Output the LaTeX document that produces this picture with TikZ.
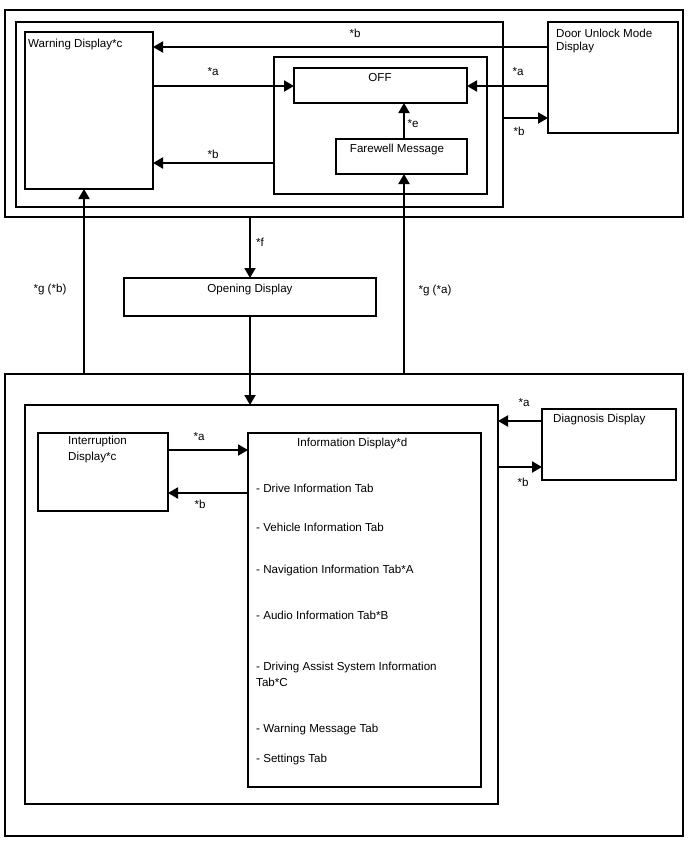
\documentclass[tikz,border=0pt]{standalone}
\usepackage{fontspec}
\setmainfont{Liberation Sans}
\usetikzlibrary{arrows.meta,calc}
\begin{document}
\begin{tikzpicture}[x=1pt,y=-1pt,
  box/.style={draw, line width=1.4pt, anchor=north west, inner sep=0pt, outer sep=0pt},
  arr/.style={line width=2pt, -{Triangle[length=10pt,width=11pt]}},
  lbl/.style={font=\fontsize{11.6}{13.5}\selectfont, inner sep=0pt}]
\useasboundingbox (0,0) rectangle (688,852);
\fill[white] (0,0) rectangle (688,852);
% boxes
\node[box, minimum width=678pt, minimum height=207pt] (outerT) at (5,10) {};
\node[box, minimum width=487pt, minimum height=185pt] (innerT) at (16,22) {};
\node[box, minimum width=128pt, minimum height=157pt] (warn) at (25,32) {};
\node[box, minimum width=213pt, minimum height=137pt] (offgrp) at (274,57) {};
\node[box, minimum width=173pt, minimum height=35pt] (off) at (294,68) {};
\node[box, minimum width=131pt, minimum height=35pt] (fare) at (336,139) {};
\node[box, minimum width=130pt, minimum height=111pt] (door) at (548,22) {};
\node[box, minimum width=252pt, minimum height=38pt] (open) at (124,278) {};
\node[box, minimum width=678pt, minimum height=462pt] (outerB) at (5,374) {};
\node[box, minimum width=473pt, minimum height=399pt] (innerB) at (25,405) {};
\node[box, minimum width=130pt, minimum height=78pt] (intr) at (38,433) {};
\node[box, minimum width=233pt, minimum height=354pt] (info) at (248,433) {};
\node[box, minimum width=134pt, minimum height=71pt] (diag) at (542,409) {};
% texts
\node[lbl, anchor=west] (twarn) at (28,44) {Warning Display*c};
\node[lbl] (toff) at (380,78) {OFF};
\node[lbl] (tfare) at (397,149) {Farewell Message};
\node[lbl, anchor=west] (tdoor1) at (556,33) {Door Unlock Mode};
\node[lbl, anchor=west] (tdoor2) at (556,47) {Display};
\node[lbl] (topen) at (250,289) {Opening Display};
\node[lbl, anchor=west] (tdiag) at (553,419) {Diagnosis Display};
\node[lbl, anchor=west] (tintr1) at (68,441) {Interruption};
\node[lbl, anchor=west] (tintr2) at (68,457) {Display*c};
\node[lbl, anchor=west] (tinfo) at (297,443) {Information Display*d};
\node[lbl, anchor=west] (i1) at (256,488) {- Drive Information Tab};
\node[lbl, anchor=west] (i2) at (256,527) {- Vehicle Information Tab};
\node[lbl, anchor=west] (i3) at (256,570) {- Navigation Information Tab*A};
\node[lbl, anchor=west] (i4) at (256,615) {- Audio Information Tab*B};
\node[lbl, anchor=west] (i5) at (256,667) {- Driving Assist System Information};
\node[lbl, anchor=west] (i5b) at (256,682) {Tab*C};
\node[lbl, anchor=west] (i6) at (256,729) {- Warning Message Tab};
\node[lbl, anchor=west] (i7) at (256,759) {- Settings Tab};
% connector labels
\node[lbl] (l1) at (355,33) {*b};
\node[lbl] (l2) at (213,72) {*a};
\node[lbl] (l3) at (518,72) {*a};
\node[lbl] (l4) at (519,131) {*b};
\node[lbl] (l5) at (413,124) {*e};
\node[lbl] (l6) at (213,154) {*b};
\node[lbl] (l7) at (260,242) {*f};
\node[lbl] (l8) at (50,289) {*g (*b)};
\node[lbl] (l9) at (435,290) {*g (*a)};
\node[lbl] (l10) at (524,403) {*a};
\node[lbl] (l11) at (523,482) {*b};
\node[lbl] (l12) at (199,437) {*a};
\node[lbl] (l13) at (200,504) {*b};
% connector end points
\coordinate (gb) at ($(warn.south west)+(59,0)$);
\coordinate (ga) at ($(fare.south west)+(68,0)$);
% connectors
\draw[arr] ($(door.north west)+(0,25)$) coordinate (a1) -- (a1 -| warn.east);
\draw[arr] ($(warn.north east)+(0,54)$) coordinate (a2) -- (a2 -| off.west);
\draw[arr] ($(door.north west)+(0,64)$) coordinate (a3) -- (a3 -| off.east);
\draw[arr] ($(innerT.north east)+(0,96)$) coordinate (a4) -- (a4 -| door.west);
\draw[arr] ($(fare.north west)+(68,0)$) coordinate (a5) -- (a5 |- off.south);
\draw[arr] ($(offgrp.north west)+(0,106)$) coordinate (a6) -- (a6 -| warn.east);
\draw[arr] (open.north |- outerT.south) -- (open.north);
\draw[arr] (open.south) -- (open.south |- innerB.north);
\draw[arr] (gb |- outerB.north) -- (gb);
\draw[arr] (ga |- outerB.north) -- (ga);
\draw[arr] ($(diag.north west)+(0,12)$) coordinate (a11) -- (a11 -| innerB.east);
\draw[arr] ($(innerB.north east)+(0,62)$) coordinate (a12) -- (a12 -| diag.west);
\draw[arr] ($(intr.north east)+(0,17)$) coordinate (a13) -- (a13 -| info.west);
\draw[arr] ($(info.north west)+(0,60)$) coordinate (a14) -- (a14 -| intr.east);
\end{tikzpicture}
\end{document}
